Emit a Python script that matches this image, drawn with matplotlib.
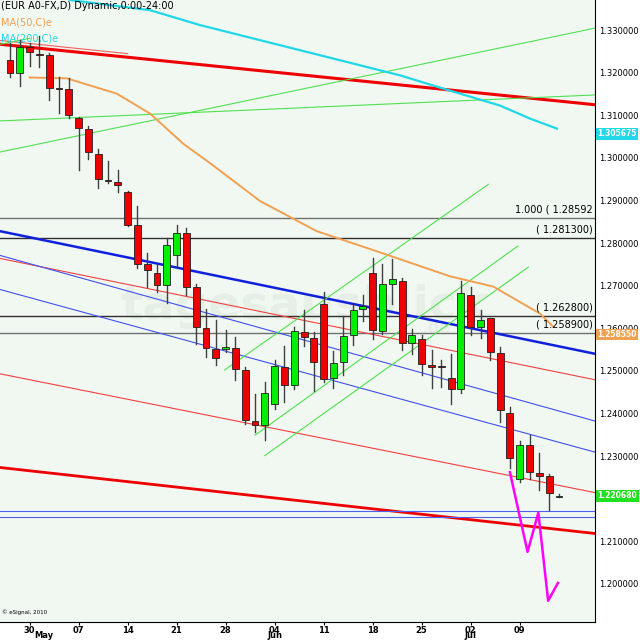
import numpy as np
import matplotlib.pyplot as plt
from matplotlib.patches import Rectangle

# daily OHLC, EUR/USD, 28 Apr .. 15 Jul 2010
opens = [1.3229, 1.3199, 1.3260, 1.3243, 1.3243, 1.3163, 1.3161, 1.3095, 1.3069, 1.3010,
         1.2946, 1.2944, 1.2920, 1.2842, 1.2750, 1.2731, 1.2701, 1.2771, 1.2823, 1.2696,
         1.2601, 1.2552, 1.2552, 1.2554, 1.2502, 1.2382, 1.2373, 1.2422, 1.2509, 1.2467,
         1.2592, 1.2578, 1.2656, 1.2483, 1.2521, 1.2585, 1.2646, 1.2729, 1.2594, 1.2705,
         1.2712, 1.2566, 1.2576, 1.2514, 1.2510, 1.2483, 1.2457, 1.2677, 1.2604, 1.2623,
         1.2542, 1.2401, 1.2245, 1.2325, 1.2259, 1.2252, 1.2204]
highs = [1.3269, 1.3276, 1.3269, 1.3286, 1.3246, 1.3189, 1.3187, 1.3097, 1.3076, 1.3022,
         1.2993, 1.2972, 1.2922, 1.2887, 1.2776, 1.2752, 1.2812, 1.2842, 1.2835, 1.2703,
         1.2646, 1.2620, 1.2597, 1.2580, 1.2509, 1.2446, 1.2474, 1.2526, 1.2559, 1.2604,
         1.2642, 1.2592, 1.2686, 1.2547, 1.2630, 1.2658, 1.2679, 1.2764, 1.2750, 1.2762,
         1.2719, 1.2599, 1.2585, 1.2550, 1.2526, 1.2540, 1.2710, 1.2696, 1.2644, 1.2625,
         1.2557, 1.2415, 1.2335, 1.2349, 1.2306, 1.2257, 1.2210]
lows = [1.3189, 1.3168, 1.3215, 1.3213, 1.3135, 1.3106, 1.3095, 1.2972, 1.2998, 1.2929,
        1.2941, 1.2920, 1.2840, 1.2741, 1.2698, 1.2686, 1.2660, 1.2745, 1.2679, 1.2564,
        1.2533, 1.2514, 1.2545, 1.2479, 1.2375, 1.2356, 1.2337, 1.2410, 1.2427, 1.2457,
        1.2559, 1.2453, 1.2474, 1.2460, 1.2491, 1.2561, 1.2616, 1.2575, 1.2587, 1.2656,
        1.2550, 1.2540, 1.2491, 1.2460, 1.2462, 1.2422, 1.2448, 1.2585, 1.2578, 1.2526,
        1.2380, 1.2271, 1.2238, 1.2245, 1.2221, 1.2174, 1.2203]
closes = [1.3199, 1.3260, 1.3248, 1.3242, 1.3165, 1.3162, 1.3102, 1.3071, 1.3014, 1.2951,
          1.2945, 1.2937, 1.2842, 1.2752, 1.2736, 1.2701, 1.2795, 1.2823, 1.2698, 1.2604,
          1.2554, 1.2531, 1.2557, 1.2505, 1.2384, 1.2373, 1.2448, 1.2512, 1.2467, 1.2594,
          1.2580, 1.2521, 1.2481, 1.2519, 1.2583, 1.2644, 1.2653, 1.2597, 1.2703, 1.2715,
          1.2566, 1.2585, 1.2516, 1.2509, 1.2509, 1.2457, 1.2682, 1.2604, 1.2620, 1.2545,
          1.2408, 1.2295, 1.2325, 1.2262, 1.2252, 1.2212, 1.2207]

# weekly date labels (candle index, label) and months
day_ticks = [2, 7, 12, 17, 22, 27, 32, 37, 42, 47, 52]
day_labels = ['30', '07', '14', '21', '28', '04', '11', '18', '25', '02', '09']
month_ticks = [3.5, 27, 47]
month_labels = ['May', 'Jun', 'Jul']

# moving averages (candle index, price)
ma50_x = [2, 5.8, 10.9, 14.3, 17.7, 20.4, 25.5, 31.3, 37.4, 44.9, 49.3, 54.1, 55.4]
ma50_y = [1.3189, 1.3187, 1.3151, 1.3104, 1.3033, 1.2988, 1.2899, 1.2828, 1.2781,
          1.2722, 1.2698, 1.2634, 1.2604]
ma200_x = [6.1, 14.3, 19.4, 29.6, 39.8, 44.9, 50, 53.1, 55.8]
ma200_y = [1.3371, 1.3347, 1.3312, 1.3253, 1.3194, 1.3158, 1.3123, 1.3092, 1.3069]

# trend lines: (x0, y0, x1, y1, colour, width)
trend_lines = [
    (-1.0, 1.3267, 59.7, 1.3125, '#ee0000', 2.2),
    (-1.0, 1.3276, 12.0, 1.3245, '#f06060', 0.8),
    (-1.0, 1.2273, 59.7, 1.2118, '#ee0000', 2.0),
    (-1.0, 1.2493, 59.7, 1.2214, '#f04040', 0.8),
    (-1.0, 1.2764, 59.7, 1.2479, '#f04040', 0.8),
    (-1.0, 1.2828, 59.7, 1.2540, '#1020dd', 1.8),
    (-1.0, 1.2771, 59.7, 1.2382, '#4050ee', 0.8),
    (-1.0, 1.2691, 59.7, 1.2309, '#4050ee', 0.8),
    (-1.0, 1.3087, 59.7, 1.3148, '#50e050', 0.8),
    (-1.0, 1.3014, 59.7, 1.3305, '#50e050', 0.8),
    (-1.0, 1.3267, 2.0, 1.3281, '#50e050', 0.8),
    (21.9, 1.2502, 48.8, 1.2938, '#50e050', 0.8),
    (25.0, 1.2349, 51.8, 1.2793, '#50e050', 0.8),
    (26.0, 1.2301, 52.9, 1.2744, '#50e050', 0.8),
    (-1.0, 1.2170, 59.7, 1.2170, '#5060ee', 0.8),
    (-1.0, 1.2156, 59.7, 1.2156, '#5060ee', 0.8),
]

# fibonacci / level lines
level_prices = [1.28592, 1.2813, 1.2628, 1.2589]
level_texts = ['1.000 ( 1.28592', '( 1.281300)', '( 1.262800)', '( 1.258900)']
level_colors = ['#707070', '#303030', '#303030', '#707070']

# projected path
proj_x = [51.0, 52.8, 53.9, 54.9, 55.9]
proj_y = [1.2262, 1.2075, 1.2167, 1.1960, 1.2002]

y_ticks = [1.20, 1.21, 1.22, 1.23, 1.24, 1.25, 1.26, 1.27, 1.28, 1.29, 1.30, 1.31, 1.32, 1.33]

fig = plt.figure(figsize=(6.4, 6.4), dpi=100)
fig.patch.set_facecolor('white')
ax = fig.add_axes([0.0, 0.028, 0.93, 0.972])
ax.set_facecolor('#f1f8f1')

ax.text(30, 1.2650, 'tagesausblick', fontsize=34, color='#e6efe6', fontweight='bold',
        ha='center', va='center', zorder=0.5)
ax.text(42, 1.2590, '.de', fontsize=12, color='#e6efe6', fontweight='bold', zorder=0.5)

for p, t, c in zip(level_prices, level_texts, level_colors):
    ax.axhline(p, color=c, lw=1.0, zorder=1)
    ax.text(59.5, p + 0.0008, t, fontsize=7, ha='right', va='bottom', color='black', zorder=5)

for x0, y0, x1, y1, c, w in trend_lines:
    ax.plot([x0, x1], [y0, y1], color=c, lw=w, zorder=2)

ax.plot(ma50_x, ma50_y, color='#f0a050', lw=1.4, zorder=3)
ax.plot(ma200_x, ma200_y, color='#20d8e8', lw=1.6, zorder=3)

w = 0.7
for i, (o, h, l, c) in enumerate(zip(opens, highs, lows, closes)):
    ax.plot([i, i], [l, h], color='#404040', lw=1.0, zorder=4)
    if i == len(opens) - 1:
        fc = '#208020'
    else:
        fc = '#00ee00' if c >= o else '#ee0000'
    body = max(abs(c - o), 0.0003)
    ax.add_patch(Rectangle((i - w / 2, min(o, c)), w, body, facecolor=fc,
                           edgecolor='#202020', lw=0.6, zorder=5))

ax.plot(proj_x, proj_y, color='#ff00ff', lw=1.8, zorder=6)

ax.set_xlim(-1.02, 59.7)
ax.set_ylim(1.1910, 1.3371)
ax.yaxis.tick_right()
ax.set_yticks(y_ticks)
ax.set_yticklabels(['%.6f' % v for v in y_ticks], fontsize=6)
ax.tick_params(axis='y', length=0, pad=3)
ax.set_xticks(day_ticks)
ax.set_xticklabels(day_labels, fontsize=6, fontweight='bold')
ax.tick_params(axis='x', length=2, pad=0.5)
for s in ['top', 'left']:
    ax.spines[s].set_visible(False)

for mx, ml in zip(month_ticks, month_labels):
    ax.text(mx, -0.0145, ml, transform=ax.get_xaxis_transform(), fontsize=6,
            fontweight='bold', ha='center', va='top', clip_on=False)

# price boxes on the right axis
for p, txt, c in [(1.305675, '1.305675', '#20d8e8'), (1.25855, '1.258550', '#f0a050'),
                  (1.22068, '1.220680', '#20e020')]:
    ax.text(1.004, p, txt, transform=ax.get_yaxis_transform(), fontsize=5.5, color='white',
            fontweight='bold', va='center', ha='left', zorder=10,
            bbox=dict(facecolor=c, edgecolor='none', pad=1.0))

ax.text(0.002, 0.998, '(EUR A0-FX,D) Dynamic,0:00-24:00', transform=ax.transAxes,
        fontsize=7, va='top', ha='left')
ax.text(0.002, 0.972, 'MA(50,C)e', transform=ax.transAxes, fontsize=7, va='top', color='#f0a050')
ax.text(0.002, 0.946, 'MA(200,C)e', transform=ax.transAxes, fontsize=7, va='top', color='#20d8e8')
ax.text(0.003, 0.012, '\u00a9 eSignal, 2010', transform=ax.transAxes, fontsize=4, va='bottom')

fig.savefig('out.png', dpi=100)
